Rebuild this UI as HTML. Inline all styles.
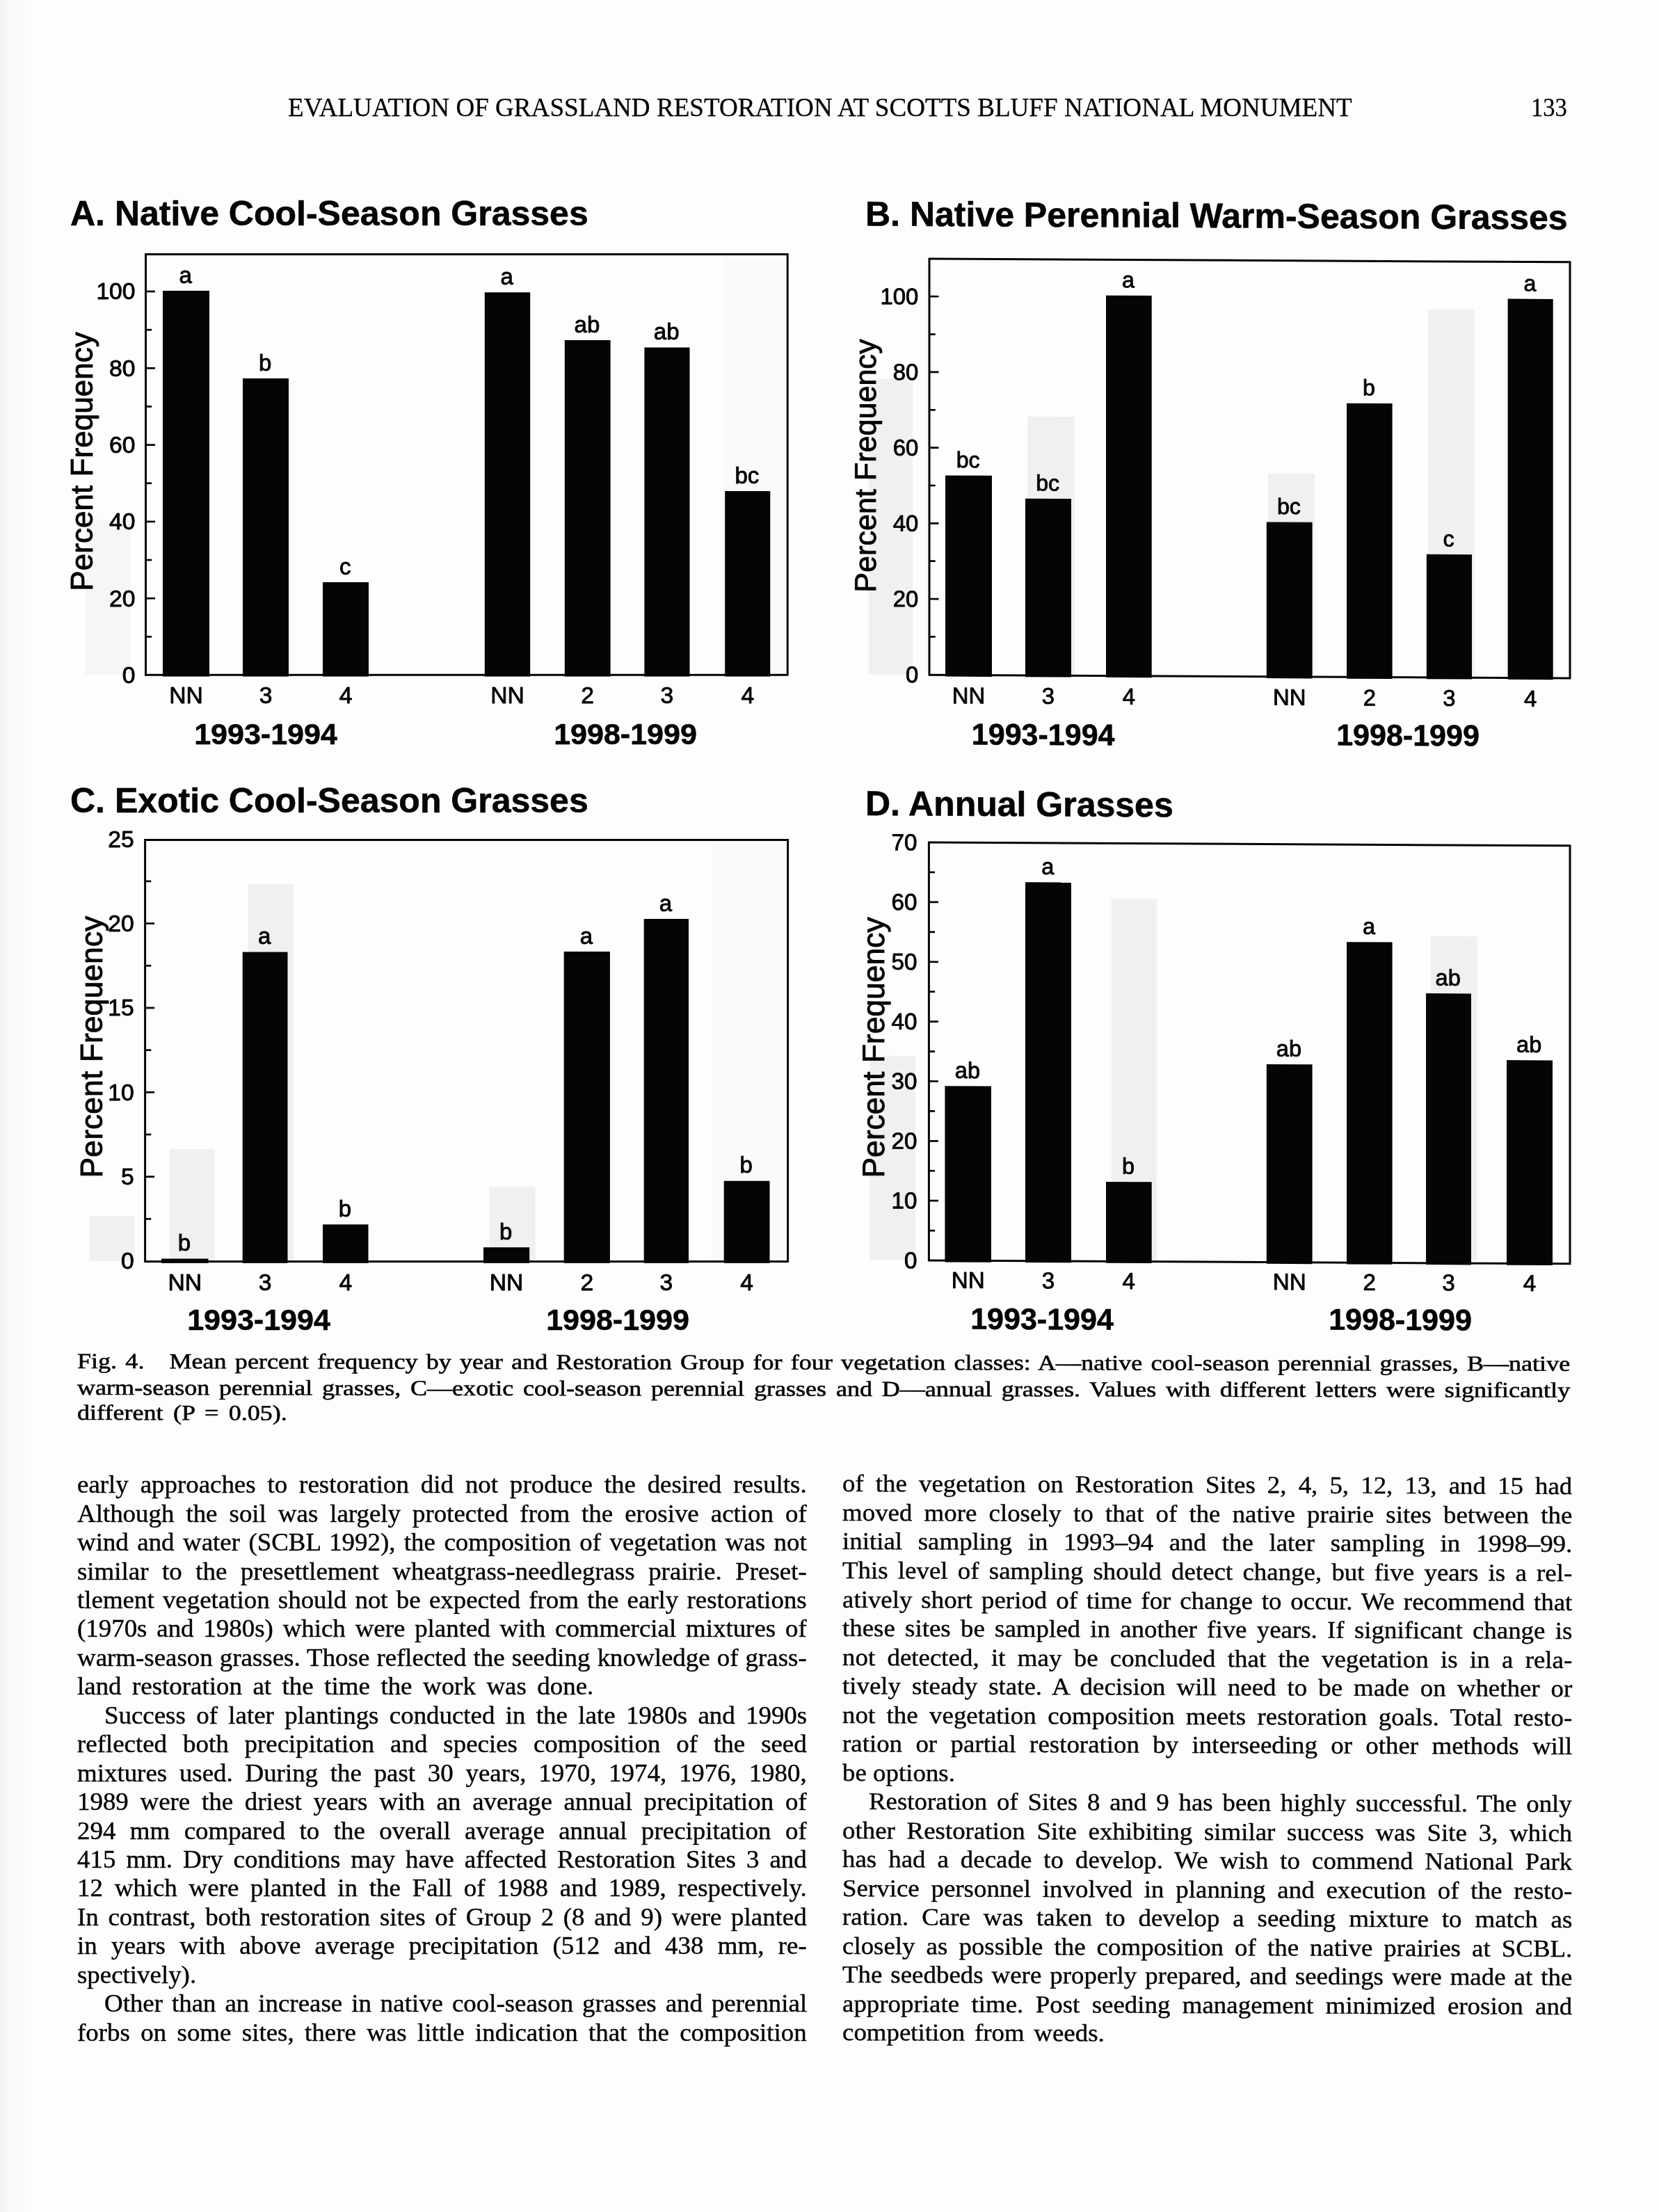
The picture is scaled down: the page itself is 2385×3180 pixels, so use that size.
<!DOCTYPE html>
<html lang="en">
<head>
<meta charset="utf-8">
<title>Evaluation of Grassland Restoration at Scotts Bluff National Monument - page 133</title>
<style>
html,body{margin:0;padding:0;}
html{overflow:hidden;}
body{width:2385px;height:3180px;background:#fdfdfd;position:relative;overflow:hidden;color:#050505;}
.edge{position:absolute;left:0;top:0;width:60px;height:3180px;background:linear-gradient(to right,#f1f1f1 0px,#f8f8f8 14px,#fdfdfd 50px);}
svg{position:absolute;left:0;top:0;}
svg text{font-family:'Liberation Sans', sans-serif;fill:#050505;stroke:#050505;stroke-width:0.9px;stroke-linejoin:round;}
svg text.b{stroke-width:0.6px;}
.hdr{position:absolute;white-space:nowrap;font-family:'Liberation Serif', serif;font-size:38px;line-height:40px;height:40px;transform-origin:0 0;-webkit-text-stroke:0.3px #050505;}
.bl{position:absolute;font-family:'Liberation Serif', serif;font-size:35px;line-height:40px;height:40px;white-space:nowrap;transform:scaleX(1.0543);transform-origin:0 0;-webkit-text-stroke:0.42px #050505;}
.cl{position:absolute;font-family:'Liberation Serif', serif;font-size:31px;line-height:36px;height:36px;white-space:nowrap;transform:skewY(0.1deg) scaleX(1.1637);transform-origin:0 0;-webkit-text-stroke:0.6px #050505;}
.j{text-align:justify;text-align-last:justify;white-space:normal;}
.cl:not(.j){word-spacing:4.6px;}
</style>
</head>
<body>
<div class="edge"></div>
<div id="page" style="position:absolute;left:0;top:0;width:2385px;height:3180px;filter:blur(0.5px);">
<div class="hdr" id="hdr" style="left:414px;top:133.68px;transform:scaleX(0.976);">EVALUATION OF GRASSLAND RESTORATION AT SCOTTS BLUFF NATIONAL MONUMENT</div>
<div class="hdr" id="pg" style="left:2201px;top:133.68px;transform:scaleX(0.91);">133</div>
<svg width="2385" height="3180" viewBox="0 0 2385 3180">
<g>
<rect x="123" y="747" width="65" height="223" fill="#f6f6f6"/>
<rect x="1040" y="366" width="93" height="604" fill="#fafafa"/>
<rect x="234" y="418" width="67" height="554.6" fill="#050505"/>
<rect x="349" y="544" width="66" height="428.6" fill="#050505"/>
<rect x="464" y="837" width="66" height="135.6" fill="#050505"/>
<rect x="696.8" y="420.3" width="65.4" height="552.3" fill="#050505"/>
<rect x="811.8" y="489" width="65.8" height="483.6" fill="#050505"/>
<rect x="926.4" y="499.5" width="65.1" height="473.1" fill="#050505"/>
<rect x="1042.2" y="706" width="65.1" height="266.6" fill="#050505"/>
<rect x="209.5" y="365.6" width="922.7" height="604.7" fill="none" stroke="#050505" stroke-width="3"/>
<text x="194.6" y="981.9" text-anchor="end" font-size="33.7">0</text>
<line x1="209.5" y1="915.35" x2="218.2" y2="915.35" stroke="#050505" stroke-width="2.7"/>
<line x1="209.5" y1="860.2" x2="223" y2="860.2" stroke="#050505" stroke-width="2.7"/>
<text x="194.6" y="871.6" text-anchor="end" font-size="33.7">20</text>
<line x1="209.5" y1="805.05" x2="218.2" y2="805.05" stroke="#050505" stroke-width="2.7"/>
<line x1="209.5" y1="749.9" x2="223" y2="749.9" stroke="#050505" stroke-width="2.7"/>
<text x="194.6" y="761.3" text-anchor="end" font-size="33.7">40</text>
<line x1="209.5" y1="694.75" x2="218.2" y2="694.75" stroke="#050505" stroke-width="2.7"/>
<line x1="209.5" y1="639.6" x2="223" y2="639.6" stroke="#050505" stroke-width="2.7"/>
<text x="194.6" y="651" text-anchor="end" font-size="33.7">60</text>
<line x1="209.5" y1="584.45" x2="218.2" y2="584.45" stroke="#050505" stroke-width="2.7"/>
<line x1="209.5" y1="529.3" x2="223" y2="529.3" stroke="#050505" stroke-width="2.7"/>
<text x="194.6" y="540.7" text-anchor="end" font-size="33.7">80</text>
<line x1="209.5" y1="474.15" x2="218.2" y2="474.15" stroke="#050505" stroke-width="2.7"/>
<line x1="209.5" y1="419" x2="223" y2="419" stroke="#050505" stroke-width="2.7"/>
<text x="194.6" y="430.4" text-anchor="end" font-size="33.7">100</text>
<text x="266.7" y="406.5" text-anchor="middle" font-size="33">a</text>
<text x="267.5" y="1011" text-anchor="middle" font-size="33.7">NN</text>
<text x="381.2" y="532.5" text-anchor="middle" font-size="33">b</text>
<text x="382" y="1011" text-anchor="middle" font-size="33.7">3</text>
<text x="496.2" y="825.5" text-anchor="middle" font-size="33">c</text>
<text x="497" y="1011" text-anchor="middle" font-size="33.7">4</text>
<text x="728.7" y="408.8" text-anchor="middle" font-size="33">a</text>
<text x="729.5" y="1011" text-anchor="middle" font-size="33.7">NN</text>
<text x="843.9" y="477.5" text-anchor="middle" font-size="33">ab</text>
<text x="844.7" y="1011" text-anchor="middle" font-size="33.7">2</text>
<text x="958.15" y="488" text-anchor="middle" font-size="33">ab</text>
<text x="958.95" y="1011" text-anchor="middle" font-size="33.7">3</text>
<text x="1073.95" y="694.5" text-anchor="middle" font-size="33">bc</text>
<text x="1074.75" y="1011" text-anchor="middle" font-size="33.7">4</text>
<text x="382" y="1070" text-anchor="middle" font-size="43" font-weight="bold" class="b">1993-1994</text>
<text x="899" y="1070" text-anchor="middle" font-size="43" font-weight="bold" class="b">1998-1999</text>
<text transform="translate(133 663.4) rotate(-90)" text-anchor="middle" font-size="44.1">Percent Frequency</text>
<text x="101" y="324" font-size="50" font-weight="bold" class="b">A. Native Cool-Season Grasses</text>
</g>
<g transform="translate(1336 372) skewY(0.3) translate(-1336 -372)">
<rect x="1249" y="545" width="63" height="425" fill="#f0f0f0"/>
<rect x="2053" y="441" width="67" height="525" fill="#f0f0f0"/>
<rect x="1823" y="678" width="67" height="289" fill="#f0f0f0"/>
<rect x="1477" y="598" width="68" height="371" fill="#f0f0f0"/>
<rect x="1359" y="683.4" width="67" height="289.1" fill="#050505"/>
<rect x="1474" y="716" width="66" height="256.5" fill="#050505"/>
<rect x="1590" y="423.3" width="65.7" height="549.2" fill="#050505"/>
<rect x="1820.8" y="747.9" width="65.8" height="224.6" fill="#050505"/>
<rect x="1936" y="576.5" width="65.6" height="396" fill="#050505"/>
<rect x="2050.8" y="793.1" width="65.2" height="179.4" fill="#050505"/>
<rect x="2167.6" y="425.2" width="65.1" height="547.3" fill="#050505"/>
<rect x="1336" y="372" width="921" height="598.2" fill="none" stroke="#050505" stroke-width="3"/>
<text x="1320.3" y="981.1" text-anchor="end" font-size="32.86">0</text>
<line x1="1336" y1="915.35" x2="1344.7" y2="915.35" stroke="#050505" stroke-width="2.7"/>
<line x1="1336" y1="861" x2="1349.5" y2="861" stroke="#050505" stroke-width="2.7"/>
<text x="1320.3" y="872.4" text-anchor="end" font-size="32.86">20</text>
<line x1="1336" y1="806.65" x2="1344.7" y2="806.65" stroke="#050505" stroke-width="2.7"/>
<line x1="1336" y1="752.3" x2="1349.5" y2="752.3" stroke="#050505" stroke-width="2.7"/>
<text x="1320.3" y="763.7" text-anchor="end" font-size="32.86">40</text>
<line x1="1336" y1="697.95" x2="1344.7" y2="697.95" stroke="#050505" stroke-width="2.7"/>
<line x1="1336" y1="643.6" x2="1349.5" y2="643.6" stroke="#050505" stroke-width="2.7"/>
<text x="1320.3" y="655" text-anchor="end" font-size="32.86">60</text>
<line x1="1336" y1="589.25" x2="1344.7" y2="589.25" stroke="#050505" stroke-width="2.7"/>
<line x1="1336" y1="534.9" x2="1349.5" y2="534.9" stroke="#050505" stroke-width="2.7"/>
<text x="1320.3" y="546.3" text-anchor="end" font-size="32.86">80</text>
<line x1="1336" y1="480.55" x2="1344.7" y2="480.55" stroke="#050505" stroke-width="2.7"/>
<line x1="1336" y1="426.2" x2="1349.5" y2="426.2" stroke="#050505" stroke-width="2.7"/>
<text x="1320.3" y="437.6" text-anchor="end" font-size="32.86">100</text>
<text x="1391.7" y="671.9" text-anchor="middle" font-size="32.17">bc</text>
<text x="1392.5" y="1011" text-anchor="middle" font-size="32.86">NN</text>
<text x="1506.2" y="704.5" text-anchor="middle" font-size="32.17">bc</text>
<text x="1507" y="1011" text-anchor="middle" font-size="32.86">3</text>
<text x="1622.05" y="411.8" text-anchor="middle" font-size="32.17">a</text>
<text x="1622.85" y="1011" text-anchor="middle" font-size="32.86">4</text>
<text x="1852.9" y="736.4" text-anchor="middle" font-size="32.17">bc</text>
<text x="1853.7" y="1011" text-anchor="middle" font-size="32.86">NN</text>
<text x="1968" y="565" text-anchor="middle" font-size="32.17">b</text>
<text x="1968.8" y="1011" text-anchor="middle" font-size="32.86">2</text>
<text x="2082.6" y="781.6" text-anchor="middle" font-size="32.17">c</text>
<text x="2083.4" y="1011" text-anchor="middle" font-size="32.86">3</text>
<text x="2199.35" y="413.7" text-anchor="middle" font-size="32.17">a</text>
<text x="2200.15" y="1011" text-anchor="middle" font-size="32.86">4</text>
<text x="1499.7" y="1070" text-anchor="middle" font-size="43" font-weight="bold" class="b">1993-1994</text>
<text x="2024" y="1068.3" text-anchor="middle" font-size="43" font-weight="bold" class="b">1998-1999</text>
<text transform="translate(1258.5 670) rotate(-90)" text-anchor="middle" font-size="43.1">Percent Frequency</text>
<text x="1244" y="325" font-size="50" font-weight="bold" class="b">B. Native Perennial Warm-Season Grasses</text>
</g>
<g>
<rect x="356.7" y="1271" width="65.1" height="542" fill="#f0f0f0"/>
<rect x="243.5" y="1652" width="65.1" height="161" fill="#f0f0f0"/>
<rect x="128.8" y="1748" width="65.2" height="65" fill="#f0f0f0"/>
<rect x="703.3" y="1706.4" width="66.2" height="106.6" fill="#f0f0f0"/>
<rect x="1023" y="1209" width="109" height="604" fill="#fafafa"/>
<rect x="232" y="1809.5" width="67.5" height="6.4" fill="#050505"/>
<rect x="348.7" y="1368.6" width="64.8" height="447.3" fill="#050505"/>
<rect x="464" y="1760.3" width="65.5" height="55.6" fill="#050505"/>
<rect x="695" y="1793.2" width="66.2" height="22.7" fill="#050505"/>
<rect x="810.7" y="1368" width="66.2" height="447.9" fill="#050505"/>
<rect x="925.7" y="1321" width="64.3" height="494.9" fill="#050505"/>
<rect x="1040.7" y="1697.7" width="65.8" height="118.2" fill="#050505"/>
<rect x="208.6" y="1207.5" width="924" height="606.1" fill="none" stroke="#050505" stroke-width="3"/>
<text x="192.7" y="1824.4" text-anchor="end" font-size="33.7">0</text>
<line x1="208.6" y1="1752.33" x2="217.3" y2="1752.33" stroke="#050505" stroke-width="2.7"/>
<line x1="208.6" y1="1691.65" x2="222.1" y2="1691.65" stroke="#050505" stroke-width="2.7"/>
<text x="192.7" y="1703.05" text-anchor="end" font-size="33.7">5</text>
<line x1="208.6" y1="1630.97" x2="217.3" y2="1630.97" stroke="#050505" stroke-width="2.7"/>
<line x1="208.6" y1="1570.3" x2="222.1" y2="1570.3" stroke="#050505" stroke-width="2.7"/>
<text x="192.7" y="1581.7" text-anchor="end" font-size="33.7">10</text>
<line x1="208.6" y1="1509.62" x2="217.3" y2="1509.62" stroke="#050505" stroke-width="2.7"/>
<line x1="208.6" y1="1448.95" x2="222.1" y2="1448.95" stroke="#050505" stroke-width="2.7"/>
<text x="192.7" y="1460.35" text-anchor="end" font-size="33.7">15</text>
<line x1="208.6" y1="1388.28" x2="217.3" y2="1388.28" stroke="#050505" stroke-width="2.7"/>
<line x1="208.6" y1="1327.6" x2="222.1" y2="1327.6" stroke="#050505" stroke-width="2.7"/>
<text x="192.7" y="1339" text-anchor="end" font-size="33.7">20</text>
<line x1="208.6" y1="1266.92" x2="217.3" y2="1266.92" stroke="#050505" stroke-width="2.7"/>
<text x="192.7" y="1217.65" text-anchor="end" font-size="33.7">25</text>
<text x="264.95" y="1798" text-anchor="middle" font-size="33">b</text>
<text x="265.75" y="1855.3" text-anchor="middle" font-size="33.7">NN</text>
<text x="380.3" y="1357.1" text-anchor="middle" font-size="33">a</text>
<text x="381.1" y="1855.3" text-anchor="middle" font-size="33.7">3</text>
<text x="495.95" y="1748.8" text-anchor="middle" font-size="33">b</text>
<text x="496.75" y="1855.3" text-anchor="middle" font-size="33.7">4</text>
<text x="727.3" y="1781.7" text-anchor="middle" font-size="33">b</text>
<text x="728.1" y="1855.3" text-anchor="middle" font-size="33.7">NN</text>
<text x="843" y="1356.5" text-anchor="middle" font-size="33">a</text>
<text x="843.8" y="1855.3" text-anchor="middle" font-size="33.7">2</text>
<text x="957.05" y="1309.5" text-anchor="middle" font-size="33">a</text>
<text x="957.85" y="1855.3" text-anchor="middle" font-size="33.7">3</text>
<text x="1072.8" y="1686.2" text-anchor="middle" font-size="33">b</text>
<text x="1073.6" y="1855.3" text-anchor="middle" font-size="33.7">4</text>
<text x="372" y="1912" text-anchor="middle" font-size="43" font-weight="bold" class="b">1993-1994</text>
<text x="888" y="1912" text-anchor="middle" font-size="43" font-weight="bold" class="b">1998-1999</text>
<text transform="translate(147 1505) rotate(-90)" text-anchor="middle" font-size="44.6">Percent Frequency</text>
<text x="101" y="1168" font-size="50" font-weight="bold" class="b">C. Exotic Cool-Season Grasses</text>
</g>
<g transform="translate(1335.4 1211) skewY(0.3) translate(-1335.4 -1211)">
<rect x="1597.8" y="1291" width="65.2" height="521" fill="#f0f0f0"/>
<rect x="2057" y="1342" width="66.5" height="466" fill="#f0f0f0"/>
<rect x="1250" y="1518" width="66" height="294" fill="#f0f0f0"/>
<rect x="1358.4" y="1561.1" width="66.6" height="253.2" fill="#050505"/>
<rect x="1474" y="1267.5" width="66" height="546.8" fill="#050505"/>
<rect x="1590" y="1697.6" width="65.7" height="116.7" fill="#050505"/>
<rect x="1820.8" y="1527.4" width="65.8" height="286.9" fill="#050505"/>
<rect x="1936" y="1351.1" width="65.6" height="463.2" fill="#050505"/>
<rect x="2050" y="1424.3" width="65" height="390" fill="#050505"/>
<rect x="2166" y="1519.7" width="66" height="294.6" fill="#050505"/>
<rect x="1335.4" y="1211" width="921.6" height="601" fill="none" stroke="#050505" stroke-width="3"/>
<text x="1318.5" y="1823.4" text-anchor="end" font-size="33.19">0</text>
<line x1="1335.4" y1="1769.08" x2="1344.1" y2="1769.08" stroke="#050505" stroke-width="2.7"/>
<line x1="1335.4" y1="1726.15" x2="1348.9" y2="1726.15" stroke="#050505" stroke-width="2.7"/>
<text x="1318.5" y="1737.55" text-anchor="end" font-size="33.19">10</text>
<line x1="1335.4" y1="1683.22" x2="1344.1" y2="1683.22" stroke="#050505" stroke-width="2.7"/>
<line x1="1335.4" y1="1640.3" x2="1348.9" y2="1640.3" stroke="#050505" stroke-width="2.7"/>
<text x="1318.5" y="1651.7" text-anchor="end" font-size="33.19">20</text>
<line x1="1335.4" y1="1597.38" x2="1344.1" y2="1597.38" stroke="#050505" stroke-width="2.7"/>
<line x1="1335.4" y1="1554.45" x2="1348.9" y2="1554.45" stroke="#050505" stroke-width="2.7"/>
<text x="1318.5" y="1565.85" text-anchor="end" font-size="33.19">30</text>
<line x1="1335.4" y1="1511.53" x2="1344.1" y2="1511.53" stroke="#050505" stroke-width="2.7"/>
<line x1="1335.4" y1="1468.6" x2="1348.9" y2="1468.6" stroke="#050505" stroke-width="2.7"/>
<text x="1318.5" y="1480" text-anchor="end" font-size="33.19">40</text>
<line x1="1335.4" y1="1425.67" x2="1344.1" y2="1425.67" stroke="#050505" stroke-width="2.7"/>
<line x1="1335.4" y1="1382.75" x2="1348.9" y2="1382.75" stroke="#050505" stroke-width="2.7"/>
<text x="1318.5" y="1394.15" text-anchor="end" font-size="33.19">50</text>
<line x1="1335.4" y1="1339.82" x2="1344.1" y2="1339.82" stroke="#050505" stroke-width="2.7"/>
<line x1="1335.4" y1="1296.9" x2="1348.9" y2="1296.9" stroke="#050505" stroke-width="2.7"/>
<text x="1318.5" y="1308.3" text-anchor="end" font-size="33.19">60</text>
<line x1="1335.4" y1="1253.97" x2="1344.1" y2="1253.97" stroke="#050505" stroke-width="2.7"/>
<text x="1318.5" y="1222.45" text-anchor="end" font-size="33.19">70</text>
<text x="1390.9" y="1549.6" text-anchor="middle" font-size="32.51">ab</text>
<text x="1391.7" y="1851.5" text-anchor="middle" font-size="33.19">NN</text>
<text x="1506.2" y="1256" text-anchor="middle" font-size="32.51">a</text>
<text x="1507" y="1851.5" text-anchor="middle" font-size="33.19">3</text>
<text x="1622.05" y="1686.1" text-anchor="middle" font-size="32.51">b</text>
<text x="1622.85" y="1851.5" text-anchor="middle" font-size="33.19">4</text>
<text x="1852.9" y="1515.9" text-anchor="middle" font-size="32.51">ab</text>
<text x="1853.7" y="1851.5" text-anchor="middle" font-size="33.19">NN</text>
<text x="1968" y="1339.6" text-anchor="middle" font-size="32.51">a</text>
<text x="1968.8" y="1851.5" text-anchor="middle" font-size="33.19">2</text>
<text x="2081.7" y="1412.8" text-anchor="middle" font-size="32.51">ab</text>
<text x="2082.5" y="1851.5" text-anchor="middle" font-size="33.19">3</text>
<text x="2198.2" y="1508.2" text-anchor="middle" font-size="32.51">ab</text>
<text x="2199" y="1851.5" text-anchor="middle" font-size="33.19">4</text>
<text x="1498" y="1910.3" text-anchor="middle" font-size="43" font-weight="bold" class="b">1993-1994</text>
<text x="2013" y="1908.5" text-anchor="middle" font-size="43" font-weight="bold" class="b">1998-1999</text>
<text transform="translate(1271 1506.4) rotate(-90)" text-anchor="middle" font-size="44.4">Percent Frequency</text>
<text x="1244" y="1172.5" font-size="50" font-weight="bold" class="b">D. Annual Grasses</text>
</g>
</svg>
<div class="cl j" style="left:110.8px;top:1939.04px;width:1844.29px;">Fig. 4. Mean percent frequency by year and Restoration Group for four vegetation classes: A—native cool-season perennial grasses, B—native</div>
<div class="cl j" style="left:110.8px;top:1976.54px;width:1844.29px;">warm-season perennial grasses, C—exotic cool-season perennial grasses and D—annual grasses. Values with different letters were significantly</div>
<div class="cl" style="left:110.8px;top:2012.54px;width:1844.29px;">different (P = 0.05).</div>
<div class="bl j" style="left:111.3px;top:2115.19px;width:994.69px;">early approaches to restoration did not produce the desired results.</div>
<div class="bl j" style="left:111.3px;top:2156.64px;width:994.69px;">Although the soil was largely protected from the erosive action of</div>
<div class="bl j" style="left:111.3px;top:2198.09px;width:994.69px;">wind and water (SCBL 1992), the composition of vegetation was not</div>
<div class="bl j" style="left:111.3px;top:2239.54px;width:994.69px;">similar to the presettlement wheatgrass-needlegrass prairie. Preset-</div>
<div class="bl j" style="left:111.3px;top:2280.99px;width:994.69px;">tlement vegetation should not be expected from the early restorations</div>
<div class="bl j" style="left:111.3px;top:2322.44px;width:994.69px;">(1970s and 1980s) which were planted with commercial mixtures of</div>
<div class="bl j" style="left:111.3px;top:2363.89px;width:994.69px;">warm-season grasses. Those reflected the seeding knowledge of grass-</div>
<div class="bl" style="left:111.3px;top:2405.34px;width:994.69px;word-spacing:6.0px;">land restoration at the time the work was done.</div>
<div class="bl j" style="left:149.8px;top:2446.79px;width:958.17px;">Success of later plantings conducted in the late 1980s and 1990s</div>
<div class="bl j" style="left:111.3px;top:2488.24px;width:994.69px;">reflected both precipitation and species composition of the seed</div>
<div class="bl j" style="left:111.3px;top:2529.69px;width:994.69px;">mixtures used. During the past 30 years, 1970, 1974, 1976, 1980,</div>
<div class="bl j" style="left:111.3px;top:2571.14px;width:994.69px;">1989 were the driest years with an average annual precipitation of</div>
<div class="bl j" style="left:111.3px;top:2612.59px;width:994.69px;">294 mm compared to the overall average annual precipitation of</div>
<div class="bl j" style="left:111.3px;top:2654.04px;width:994.69px;">415 mm. Dry conditions may have affected Restoration Sites 3 and</div>
<div class="bl j" style="left:111.3px;top:2695.49px;width:994.69px;">12 which were planted in the Fall of 1988 and 1989, respectively.</div>
<div class="bl j" style="left:111.3px;top:2736.94px;width:994.69px;">In contrast, both restoration sites of Group 2 (8 and 9) were planted</div>
<div class="bl j" style="left:111.3px;top:2778.39px;width:994.69px;">in years with above average precipitation (512 and 438 mm, re-</div>
<div class="bl" style="left:111.3px;top:2819.84px;width:994.69px;word-spacing:0px;">spectively).</div>
<div class="bl j" style="left:149.8px;top:2861.29px;width:958.17px;">Other than an increase in native cool-season grasses and perennial</div>
<div class="bl j" style="left:111.3px;top:2902.74px;width:994.69px;">forbs on some sites, there was little indication that the composition</div>
<div class="bl j" style="left:1210.7px;top:2113.39px;width:995.26px;transform:skewY(0.22deg) scaleX(1.0543);">of the vegetation on Restoration Sites 2, 4, 5, 12, 13, and 15 had</div>
<div class="bl j" style="left:1210.7px;top:2154.92px;width:995.26px;transform:skewY(0.22deg) scaleX(1.0543);">moved more closely to that of the native prairie sites between the</div>
<div class="bl j" style="left:1210.7px;top:2196.45px;width:995.26px;transform:skewY(0.22deg) scaleX(1.0543);">initial sampling in 1993–94 and the later sampling in 1998–99.</div>
<div class="bl j" style="left:1210.7px;top:2237.98px;width:995.26px;transform:skewY(0.22deg) scaleX(1.0543);">This level of sampling should detect change, but five years is a rel-</div>
<div class="bl j" style="left:1210.7px;top:2279.51px;width:995.26px;transform:skewY(0.22deg) scaleX(1.0543);">atively short period of time for change to occur. We recommend that</div>
<div class="bl j" style="left:1210.7px;top:2321.04px;width:995.26px;transform:skewY(0.22deg) scaleX(1.0543);">these sites be sampled in another five years. If significant change is</div>
<div class="bl j" style="left:1210.7px;top:2362.57px;width:995.26px;transform:skewY(0.22deg) scaleX(1.0543);">not detected, it may be concluded that the vegetation is in a rela-</div>
<div class="bl j" style="left:1210.7px;top:2404.1px;width:995.26px;transform:skewY(0.22deg) scaleX(1.0543);">tively steady state. A decision will need to be made on whether or</div>
<div class="bl j" style="left:1210.7px;top:2445.63px;width:995.26px;transform:skewY(0.22deg) scaleX(1.0543);">not the vegetation composition meets restoration goals. Total resto-</div>
<div class="bl j" style="left:1210.7px;top:2487.16px;width:995.26px;transform:skewY(0.22deg) scaleX(1.0543);">ration or partial restoration by interseeding or other methods will</div>
<div class="bl" style="left:1210.7px;top:2528.69px;width:995.26px;transform:skewY(0.22deg) scaleX(1.0543);word-spacing:0px;">be options.</div>
<div class="bl j" style="left:1249.2px;top:2570.37px;width:958.74px;transform:skewY(0.22deg) scaleX(1.0543);">Restoration of Sites 8 and 9 has been highly successful. The only</div>
<div class="bl j" style="left:1210.7px;top:2611.75px;width:995.26px;transform:skewY(0.22deg) scaleX(1.0543);">other Restoration Site exhibiting similar success was Site 3, which</div>
<div class="bl j" style="left:1210.7px;top:2653.28px;width:995.26px;transform:skewY(0.22deg) scaleX(1.0543);">has had a decade to develop. We wish to commend National Park</div>
<div class="bl j" style="left:1210.7px;top:2694.81px;width:995.26px;transform:skewY(0.22deg) scaleX(1.0543);">Service personnel involved in planning and execution of the resto-</div>
<div class="bl j" style="left:1210.7px;top:2736.34px;width:995.26px;transform:skewY(0.22deg) scaleX(1.0543);">ration. Care was taken to develop a seeding mixture to match as</div>
<div class="bl j" style="left:1210.7px;top:2777.87px;width:995.26px;transform:skewY(0.22deg) scaleX(1.0543);">closely as possible the composition of the native prairies at SCBL.</div>
<div class="bl j" style="left:1210.7px;top:2819.4px;width:995.26px;transform:skewY(0.22deg) scaleX(1.0543);">The seedbeds were properly prepared, and seedings were made at the</div>
<div class="bl j" style="left:1210.7px;top:2860.93px;width:995.26px;transform:skewY(0.22deg) scaleX(1.0543);">appropriate time. Post seeding management minimized erosion and</div>
<div class="bl" style="left:1210.7px;top:2902.46px;width:995.26px;transform:skewY(0.22deg) scaleX(1.0543);word-spacing:4.2px;">competition from weeds.</div>
</div>
</body>
</html>
